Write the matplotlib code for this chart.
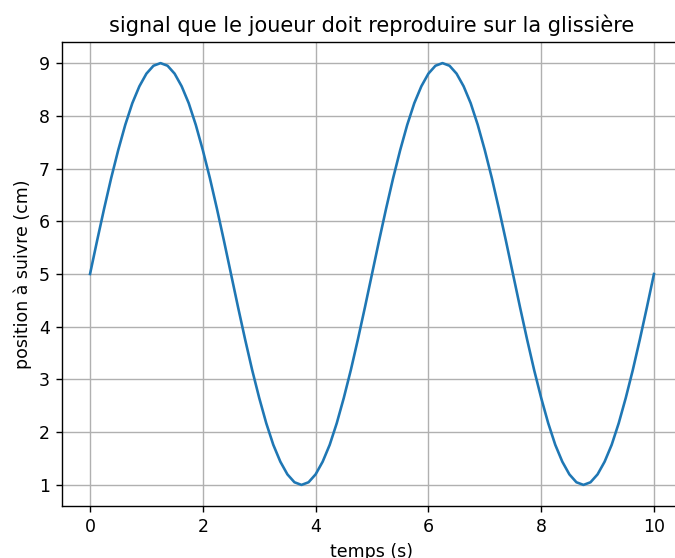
import matplotlib
matplotlib.use("Agg")
import matplotlib.pyplot as plt

# temps (s), pas de 0.125 s
temps = [k * 0.125 for k in range(81)]

# position (cm)
demi_haut = [5.00, 5.63, 6.24, 6.82, 7.35, 7.83, 8.24, 8.56, 8.80, 8.95,
             9.00, 8.95, 8.80, 8.56, 8.24, 7.83, 7.35, 6.82, 6.24, 5.63]
demi_bas = [5.00, 4.37, 3.76, 3.18, 2.65, 2.17, 1.76, 1.44, 1.20, 1.05,
            1.00, 1.05, 1.20, 1.44, 1.76, 2.17, 2.65, 3.18, 3.76, 4.37]
position = demi_haut + demi_bas + demi_haut + demi_bas + [5.00]

fig = plt.figure(figsize=(5.4, 4.464), dpi=125)
ax = fig.add_axes([0.0916, 0.0932, 0.919, 0.8315])
ax.plot(temps, position)
ax.set_title("signal que le joueur doit reproduire sur la glissière")
ax.set_xlabel("temps (s)")
ax.set_ylabel("position à suivre (cm)")
ax.grid(True)
fig.savefig("out.png", dpi=125)
